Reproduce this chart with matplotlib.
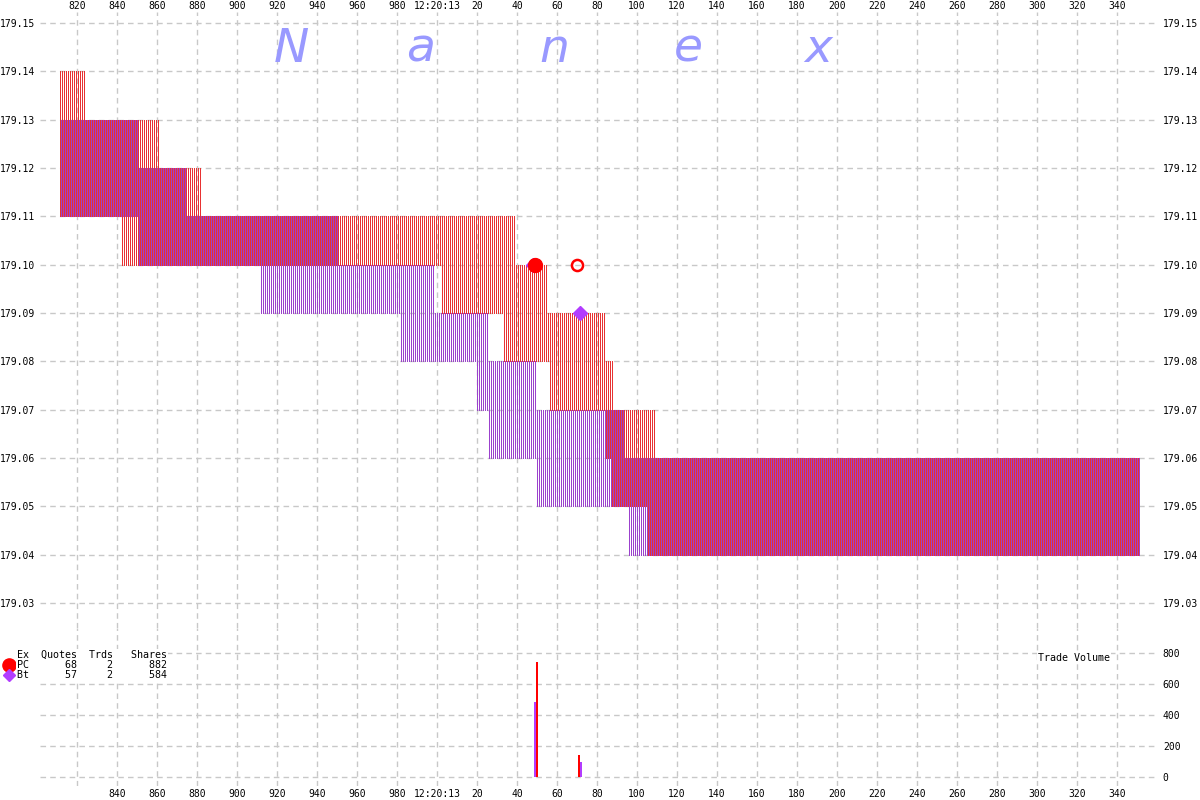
import numpy as np
import matplotlib
matplotlib.use('Agg')
import matplotlib.pyplot as plt

# time axis: milliseconds after 12:20:12.000
# PC quotes (red): start, end, bid, ask
pc_t0 = [811.5, 824, 842.5, 861, 882, 1002, 1033.5, 1039, 1055, 1056.5, 1084, 1087, 1088, 1105, 1109]
pc_t1 = [824, 842.5, 861, 882, 1002, 1033.5, 1039, 1055, 1056.5, 1084, 1087, 1088, 1105, 1109, 1351.5]
pc_bid = [179.11, 179.11, 179.10, 179.10, 179.10, 179.09, 179.08, 179.08, 179.08, 179.07, 179.06, 179.05, 179.05, 179.04, 179.04]
pc_ask = [179.14, 179.13, 179.13, 179.12, 179.11, 179.11, 179.11, 179.10, 179.09, 179.09, 179.08, 179.08, 179.07, 179.07, 179.06]

# Bt quotes (purple)
bt_t0 = [811.5, 850.5, 875, 912, 950.5, 982, 998.5, 1020, 1025.5, 1049.5, 1094, 1096]
bt_t1 = [850.5, 875, 912, 950.5, 982, 998.5, 1020, 1025.5, 1049.5, 1094, 1096, 1351.5]
bt_bid = [179.11, 179.10, 179.10, 179.09, 179.09, 179.08, 179.08, 179.07, 179.06, 179.05, 179.05, 179.04]
bt_ask = [179.13, 179.12, 179.11, 179.11, 179.10, 179.10, 179.09, 179.09, 179.08, 179.07, 179.06, 179.06]

# trades
pc_trade_t = [1049, 1070]
pc_trade_px = [179.10, 179.10]
pc_trade_sz = [740, 142]
pc_vol_t = [1050, 1071]
bt_trade_t = [1048, 1071.5]
bt_trade_px = [179.10, 179.09]
bt_trade_sz = [486, 98]
bt_vol_t = [1049, 1072]

# legend table
ex_names = ['PC', 'Bt']
ex_quotes = [68, 57]
ex_trds = [2, 2]
ex_shares = [882, 584]

price_ticks = [179.03, 179.04, 179.05, 179.06, 179.07, 179.08, 179.09,
               179.10, 179.11, 179.12, 179.13, 179.14, 179.15]
vol_ticks = [0, 200, 400, 600, 800]

RED = '#e83232'
PURPLE = '#9b41cd'
MARK_PURPLE = '#b23cff'
GRID = '#c8c8c8'
MONO = 'DejaVu Sans Mono'

W, H = 1200, 800
fig = plt.figure(figsize=(12, 8), dpi=100)


def box(l, t, r, b):
    return [l / W, 1 - b / H, (r - l) / W, (b - t) / H]


ax = fig.add_axes(box(40, 12, 1158, 628))
vax = fig.add_axes(box(40, 628, 1158, 786))
for a in (ax, vax):
    a.set_xlim(801.5, 1360.5)
    for s in a.spines.values():
        s.set_visible(False)
    a.grid(True, color=GRID, linestyle=(0, (4, 3)), linewidth=1)
    a.set_axisbelow(True)
    a.tick_params(length=0)

ax.set_ylim(179.03 - 25 / 4800, 179.15 + 11 / 4800)
vax.set_ylim(-9 / 0.155, 149 / 0.155)


def stripes(t0s, t1s, lows, highs, offset, color):
    xs, lo, hi = [], [], []
    for a, b, l, h in zip(t0s, t1s, lows, highs):
        t = np.arange(np.ceil(a - offset) + offset, b, 1.0)
        xs.extend(t)
        lo.extend([l] * len(t))
        hi.extend([h] * len(t))
    ax.vlines(xs, lo, hi, colors=color, linewidth=0.72, antialiased=False, zorder=2)


stripes(bt_t0, bt_t1, bt_bid, bt_ask, 0.0, PURPLE)
stripes(pc_t0, pc_t1, pc_bid, pc_ask, 0.5, RED)

# trade markers
ax.plot(bt_trade_t[0], bt_trade_px[0], 'D', color=MARK_PURPLE, ms=7, zorder=4)
ax.plot(pc_trade_t[0], pc_trade_px[0], 'o', color='#ff0000', ms=10, zorder=5)
ax.plot(pc_trade_t[1], pc_trade_px[1], 'o', mfc='none', mec='#ff0000', ms=8, mew=1.8, zorder=5)
ax.plot(bt_trade_t[1], bt_trade_px[1], 'D', color=MARK_PURPLE, ms=7, zorder=5)

# volume bars
vax.bar(bt_vol_t[0], bt_trade_sz[0], width=1.0, color=MARK_PURPLE, zorder=3)
vax.bar(pc_vol_t[0], pc_trade_sz[0], width=1.0, color='#ff0000', zorder=4)
vax.bar(pc_vol_t[1], pc_trade_sz[1], width=1.0, color='#ff0000', zorder=3)
vax.bar(bt_vol_t[1], bt_trade_sz[1], width=1.0, color=MARK_PURPLE, zorder=4)


def tlabel(v):
    v = int(round(v))
    return '12:20:13' if v == 1000 else str(v % 1000)


top_ticks = list(range(820, 1341, 20))
bot_ticks = list(range(840, 1341, 20))
ax.set_xticks(top_ticks)
ax.set_xticklabels([tlabel(v) for v in top_ticks], fontfamily=MONO, fontsize=7)
ax.xaxis.tick_top()
ax.tick_params(axis='x', pad=0.5)
vax.set_xticks(bot_ticks)
vax.set_xticklabels([tlabel(v) for v in bot_ticks], fontfamily=MONO, fontsize=7)
vax.tick_params(axis='x', pad=2)
# keep the full grid: add the 820 gridline in the volume panel
vax.axvline(820, color=GRID, linestyle=(0, (4, 3)), linewidth=1, zorder=0)

ax.set_yticks(price_ticks)
ax.set_yticklabels(['%.2f' % p for p in price_ticks], fontfamily=MONO, fontsize=7)
ax.tick_params(axis='y', labelleft=True, labelright=True, pad=3.5)
vax.set_yticks(vol_ticks)
vax.set_yticklabels([str(v) for v in vol_ticks], fontfamily=MONO, fontsize=7)
vax.tick_params(axis='y', labelleft=False, labelright=True, pad=3.5)

# overlay in pixel coordinates for watermark and legend
ov = fig.add_axes([0, 0, 1, 1])
ov.set_xlim(0, W)
ov.set_ylim(H, 0)
ov.axis('off')
ov.patch.set_alpha(0)

for ch, x in zip('Nanex', [291, 421, 554, 688, 818]):
    ov.text(x, 62, ch, fontsize=34, style='italic', color='#9999ff',
            ha='center', va='baseline', family='DejaVu Sans')

bb = dict(facecolor='white', edgecolor='none', pad=1)
ov.text(17, 655, f"{'Ex':<2}{'Quotes':>8}{'Trds':>6}{'Shares':>9}",
        family=MONO, fontsize=7.2, va='center', ha='left', bbox=bb)
rows_y = [665, 675]
for name, q, t, s, y in zip(ex_names, ex_quotes, ex_trds, ex_shares, rows_y):
    ov.text(17, y, f"{name:<2}{q:>8}{t:>6}{s:>9}", family=MONO, fontsize=7.2,
            va='center', ha='left', bbox=bb)
ov.plot(9, rows_y[0], 'o', color='#ff0000', ms=9.5)
ov.plot(9, rows_y[1], 'D', color=MARK_PURPLE, ms=6)

ov.text(1038, 658, 'Trade Volume', family=MONO, fontsize=7.2, va='center',
        ha='left', bbox=bb)

fig.savefig('out.png', dpi=100, facecolor='white')
